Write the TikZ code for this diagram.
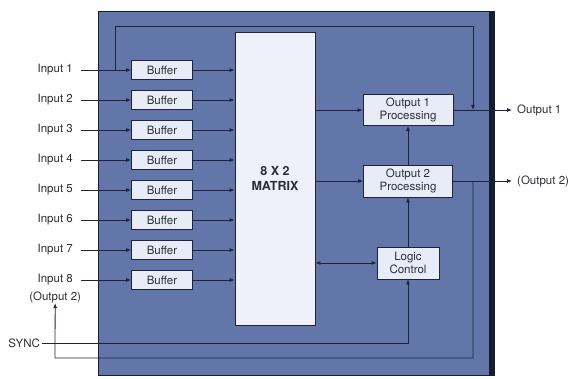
\documentclass[tikz,border=0pt]{standalone}
\usepackage{fontspec}
\setmainfont{TeX Gyre Heros}
\usetikzlibrary{arrows.meta,positioning,calc}
\definecolor{panelblue}{RGB}{98,118,170}
\definecolor{paneledge}{RGB}{22,28,50}
\definecolor{wirenavy}{RGB}{30,36,62}
\definecolor{boxfill}{RGB}{232,236,247}
\definecolor{matfill}{RGB}{240,240,250}
\definecolor{labeltext}{RGB}{45,45,55}

\tikzset{
  blockbox/.style={draw=wirenavy,fill=boxfill,line width=0.8pt,inner sep=0pt,
    font=\fontsize{11.5}{13}\selectfont,text=labeltext,align=center},
  lbl/.style={font=\fontsize{11.5}{13}\selectfont,text=labeltext,inner sep=0pt},
  sig/.style={draw=wirenavy,line width=0.8pt,-{Latex[length=5pt,width=4pt]}},
}

\begin{document}
\begin{tikzpicture}[x=1pt,y=-1pt]
  \useasboundingbox (0,0) rectangle (573,378);
  % Panel
  \fill[panelblue] (98,11) rectangle (490,375);
  \draw[paneledge,line width=0.8pt] (98,11) rectangle (490,375);
  \fill[paneledge] (489,11) rectangle (495,376);
  % Buffers and inputs
  \foreach \i in {1,...,8}{
    \node[blockbox,minimum width=61pt,minimum height=19pt] (buf\i) at (162,40+30*\i) {Buffer};
    \node[lbl,anchor=east] (in\i) at (73,40+30*\i) {Input \i};
  }
  \node[lbl,below=6pt of in8] (in8b) {(Output 2)};
  \node[lbl,anchor=east] (sync) at (40,343) {SYNC};
  % Matrix
  \node[blockbox,fill=matfill,minimum width=80pt,minimum height=293pt,
    font=\fontsize{12.5}{15}\selectfont\bfseries] (mx) at (275,178.5) {8 X 2\\MATRIX};
  % Output side
  \node[blockbox,minimum width=90pt,minimum height=31pt] (out1) at (408,110) {Output 1\\Processing};
  \node[blockbox,minimum width=89pt,minimum height=32pt] (out2) at (408,181) {Output 2\\Processing};
  \node[blockbox,minimum width=62pt,minimum height=32pt] (logic) at (408,263) {Logic\\Control};
  \coordinate (o1) at (512,110);
  \coordinate (o2) at (512,181);
  \node[lbl,anchor=west] (o1lbl) at (517,110) {Output 1};
  \node[lbl,anchor=west] (o2lbl) at (517,181) {(Output 2)};
  % Connectors
  \foreach \i in {1,...,8}{
    \draw[sig] ([xshift=8pt]in\i.east) -- (buf\i.west);
    \draw[sig] (buf\i.east) -- (buf\i.east -| mx.west);
  }
  \draw[sig] (mx.east |- out1) -- (out1.west);
  \draw[sig] (mx.east |- out2) -- (out2.west);
  \draw[sig,{Latex[length=5pt,width=4pt]}-{Latex[length=5pt,width=4pt]}] (mx.east |- logic) -- (logic.west);
  \draw[sig] (logic) -- (out2);
  \draw[sig] (out2) -- (out1);
  \draw[sig] (out1.east) -- (o1);
  \draw[sig] (out2.east) -- (o2);
  % Input 1 bypass
  \coordinate (tap1) at (115,70);
  \coordinate (ftop) at (473,26);
  \coordinate (j1) at (473,110);
  \draw[sig] (tap1) |- (ftop) -- (j1);
  % Output 2 loop back
  \coordinate (j2) at (473,181);
  \coordinate (fb) at (55,358);
  \draw[sig] (j2) |- (fb) -- (in8b.south);
  % Sync
  \draw[sig] ([xshift=2pt]sync.east) -| (logic.south);
\end{tikzpicture}
\end{document}
